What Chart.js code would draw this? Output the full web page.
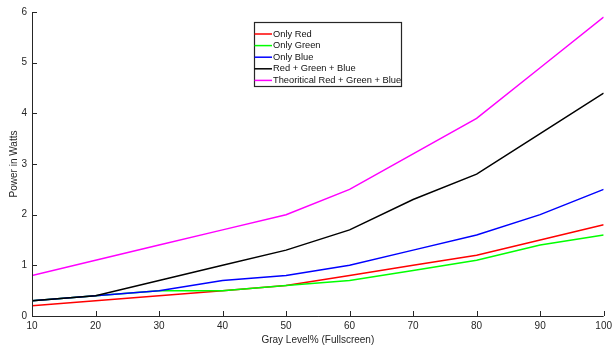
<!DOCTYPE html>
<html><head><meta charset="utf-8">
<script src="https://cdn.jsdelivr.net/npm/chart.js@4/dist/chart.umd.min.js"></script>
<style>html,body{margin:0;padding:0;background:#fff}#wrap{width:616px;height:347px}</style>
</head><body><div id="wrap"><canvas id="c" width="616" height="347"></canvas></div>
<script>
const grayLevels = [10,20,30,40,50,60,70,80,90,100];
const onlyRed   = [0.2,0.3,0.4,0.5,0.6,0.8,1.0,1.2,1.5,1.8];
const onlyGreen = [0.3,0.4,0.5,0.5,0.6,0.7,0.9,1.1,1.4,1.6];
const onlyBlue  = [0.3,0.4,0.5,0.7,0.8,1.0,1.3,1.6,2.0,2.5];
const rgbMeasured = [0.3,0.4,0.7,1.0,1.3,1.7,2.3,2.8,3.6,4.4];
const rgbTheoretical = [0.8,1.1,1.4,1.7,2.0,2.5,3.2,3.9,4.9,5.9];
const seriesNames = ["Only Red","Only Green","Only Blue","Red + Green + Blue","Theoritical Red + Green + Blue"];
const seriesColors = ["#ff0000","#00ff00","#0000ff","#000000","#ff00ff"];
const yTicks = [0,1,2,3,4,5,6];
const xTicks = [10,20,30,40,50,60,70,80,90,100];

const seriesData = [onlyRed, onlyGreen, onlyBlue, rgbMeasured, rgbTheoretical];
const axisColor = "#262626";
const FONT = "'Liberation Sans', Arial, sans-serif";

const inwardTicks = {
  id:'inwardTicks',
  afterDraw(chart){
    const ctx = chart.ctx, a = chart.chartArea;
    const xs = chart.scales.x, ys = chart.scales.y;
    ctx.save();
    ctx.strokeStyle = axisColor; ctx.lineWidth = 1;
    ctx.beginPath();
    ctx.moveTo(a.left+0.5, a.top); ctx.lineTo(a.left+0.5, a.bottom+0.5); ctx.lineTo(a.right, a.bottom+0.5);
    xTicks.forEach(v=>{const p=Math.round(xs.getPixelForValue(v))+0.5; ctx.moveTo(p,a.bottom); ctx.lineTo(p,a.bottom-5);});
    yTicks.forEach(v=>{const p=Math.round(ys.getPixelForValue(v))+0.5; ctx.moveTo(a.left,p); ctx.lineTo(a.left+5,p);});
    ctx.stroke();
    // legend
    const bx=254.5, by=22.5, bw=147, bh=64, rowH=11.6;
    ctx.fillStyle='#fff'; ctx.fillRect(bx,by,bw,bh);
    ctx.strokeStyle=axisColor; ctx.lineWidth=1.2; ctx.strokeRect(bx,by,bw,bh);
    ctx.font = "9.3px "+FONT; ctx.textBaseline='middle'; ctx.textAlign='left';
    chart.data.datasets.forEach((d,i)=>{
      const y = 34 + i*rowH;
      ctx.strokeStyle=d.borderColor; ctx.lineWidth=1.5;
      ctx.beginPath(); ctx.moveTo(bx,y); ctx.lineTo(272,y); ctx.stroke();
      ctx.fillStyle='#111'; ctx.fillText(d.label, 273, y);
    });
    ctx.restore();
  }
};

new Chart(document.getElementById('c'), {
  type:'line',
  data:{
    datasets: seriesNames.map((n,i)=>({
      label:n,
      data: grayLevels.map((x,j)=>({x, y: seriesData[i][j]})),
      borderColor: seriesColors[i], backgroundColor: seriesColors[i],
      borderWidth:1.5, pointRadius:0, tension:0, fill:false, order: 5-i
    }))
  },
  options:{
    responsive:false, animation:false, devicePixelRatio:1,
    layout:{padding:{top:12,right:9,left:0,bottom:0}},
    plugins:{legend:{display:false}, tooltip:{enabled:false}},
    scales:{
      x:{type:'linear', min:10, max:100,
        afterBuildTicks(s){s.ticks = xTicks.map(v=>({value:v}));},
        afterFit(s){s.height=31;},
        grid:{display:false, drawTicks:false}, border:{display:false},
        ticks:{color:axisColor, font:{size:10, family:FONT}, padding:4, maxRotation:0, autoSkip:false},
        title:{display:true, text:'Gray Level% (Fullscreen)', color:axisColor, font:{size:10,family:FONT}, padding:{top:0,bottom:1}}
      },
      y:{type:'linear', min:0, max:6,
        afterBuildTicks(s){s.ticks = yTicks.map(v=>({value:v}));},
        afterFit(s){s.width=32;},
        grid:{display:false, drawTicks:false}, border:{display:false},
        ticks:{color:axisColor, font:{size:10, family:FONT}, padding:5},
        title:{display:true, text:'Power in Watts', color:axisColor, font:{size:10,family:FONT}, padding:{top:8,bottom:0}}
      }
    }
  },
  plugins:[inwardTicks]
});
</script></body></html>
